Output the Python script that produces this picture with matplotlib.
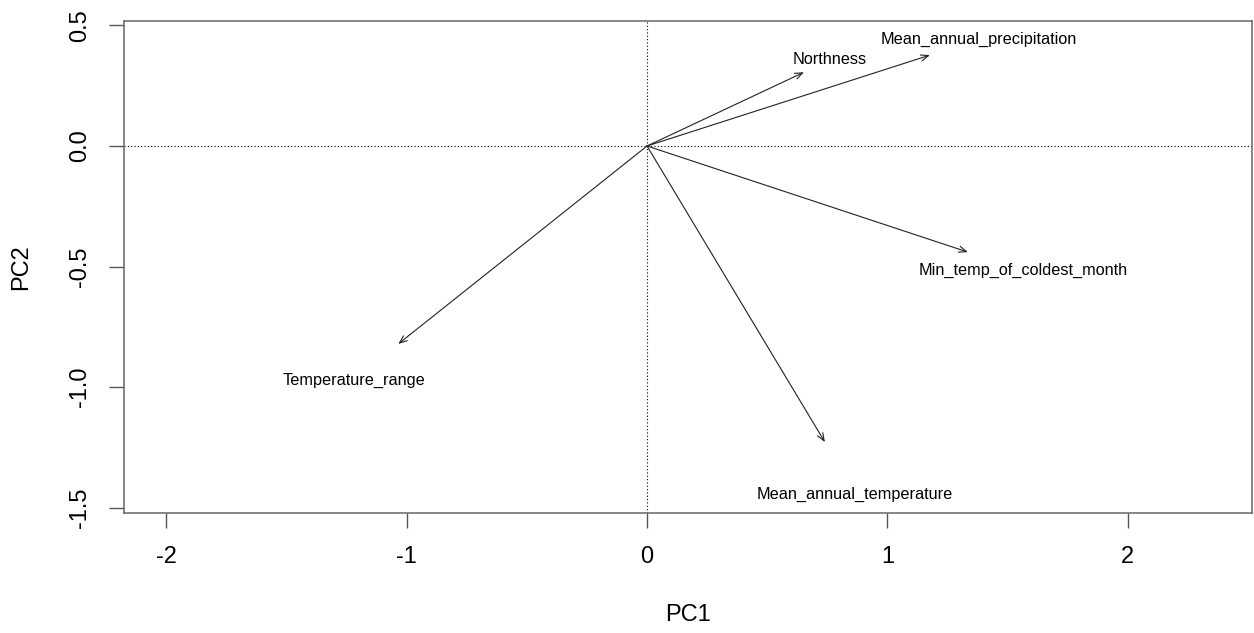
import matplotlib
matplotlib.use("Agg")
from matplotlib import pyplot as plt

plt.rcParams['font.family'] = ['Liberation Sans', 'DejaVu Sans']

# Loadings (arrow tips) and label positions
variables = ["Northness", "Mean_annual_precipitation", "Min_temp_of_coldest_month",
             "Temperature_range", "Mean_annual_temperature"]
pc1 = [0.653, 1.177, 1.335, -1.035, 0.740]
pc2 = [0.306, 0.377, -0.440, -0.821, -1.228]
lab_x = [0.761, 1.379, 1.566, -1.221, 0.865]
lab_y = [0.357, 0.444, -0.518, -0.971, -1.443]

x_ticks = [-2, -1, 0, 1, 2]
y_ticks = [0.5, 0.0, -0.5, -1.0, -1.5]

fig = plt.figure(figsize=(12.54, 6.33), dpi=100)
ax = fig.add_axes([0.0989, 0.1896, 0.8995, 0.778])

# Ejes de referencia
ax.axhline(0, color='black', linestyle=(0, (1, 2)), linewidth=0.8)
ax.axvline(0, color='black', linestyle=(0, (1, 2)), linewidth=0.8)

# Flechas
for x, y in zip(pc1, pc2):
    ax.annotate("", xy=(x, y), xytext=(0, 0),
                arrowprops=dict(arrowstyle="->,head_length=0.55,head_width=0.22",
                                color='#222222', lw=0.8,
                                shrinkA=0, shrinkB=0))
for name, x, y in zip(variables, lab_x, lab_y):
    ax.text(x, y, name, ha='center', va='center', fontsize=11.7, color='black')

ax.set_xlim(-2.176, 2.517)
ax.set_ylim(-1.522, 0.5205)

ax.set_xticks(x_ticks)
ax.set_xticklabels([str(t) for t in x_ticks])
ax.set_yticks(y_ticks)
ax.set_yticklabels(["%.1f" % t for t in y_ticks], rotation=90, va='center')
ax.tick_params(axis='both', length=11, width=1.0, color='#555555',
               labelsize=17, pad=13)

for s in ax.spines.values():
    s.set_color('#666666')
    s.set_linewidth(1.1)

ax.set_xlabel("PC1", fontsize=17, labelpad=26)
ax.set_ylabel("PC2", fontsize=17, labelpad=26)

fig.savefig("out.png", dpi=100)
